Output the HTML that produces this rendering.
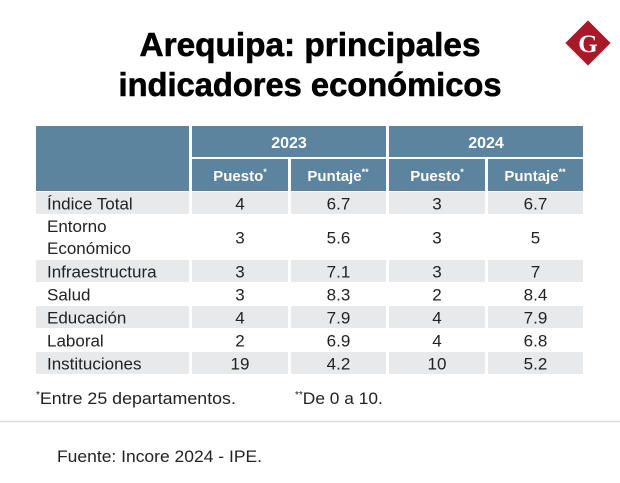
<!DOCTYPE html>
<html><head><meta charset="utf-8"><style>
html,body{margin:0;padding:0;background:#fff;width:620px;height:483px;overflow:hidden}
svg{display:block;font-family:"Liberation Sans",sans-serif}
</style></head><body>
<svg id="c" width="620" height="483" viewBox="0 0 620 483">
<text x="310" y="56" text-anchor="middle" font-size="33" font-weight="bold" textLength="341" lengthAdjust="spacingAndGlyphs" fill="#000" stroke="#000" stroke-width="0.6">Arequipa: principales</text>
<text x="310" y="96" text-anchor="middle" font-size="33" font-weight="bold" textLength="383" lengthAdjust="spacingAndGlyphs" fill="#000" stroke="#000" stroke-width="0.6">indicadores económicos</text>
<g>
<rect x="572" y="27" width="32" height="32" fill="#a8192a" transform="rotate(45 588 43)"/>
<text x="588" y="52" text-anchor="middle" font-family="Liberation Serif,serif" font-weight="bold" font-size="25" fill="#fff">G</text>
</g>
<g>
<rect x="36" y="126" width="153" height="65" fill="#5c849f"/>
<rect x="192" y="126" width="194" height="31" fill="#5c849f"/>
<rect x="389" y="126" width="194" height="31" fill="#5c849f"/>
<rect x="192" y="159" width="96" height="32" fill="#5c849f"/>
<rect x="291" y="159" width="95" height="32" fill="#5c849f"/>
<rect x="389" y="159" width="96" height="32" fill="#5c849f"/>
<rect x="488" y="159" width="95" height="32" fill="#5c849f"/>
<text x="289" y="148" text-anchor="middle" font-size="16" font-weight="bold" fill="#fff">2023</text>
<text x="486" y="148" text-anchor="middle" font-size="16" font-weight="bold" fill="#fff">2024</text>
<text x="240" y="181" text-anchor="middle" font-size="15" font-weight="bold" fill="#fff">Puesto<tspan font-size="9" dy="-6">*</tspan></text>
<text x="338" y="181" text-anchor="middle" font-size="15" font-weight="bold" fill="#fff">Puntaje<tspan font-size="9" dy="-6">**</tspan></text>
<text x="437" y="181" text-anchor="middle" font-size="15" font-weight="bold" fill="#fff">Puesto<tspan font-size="9" dy="-6">*</tspan></text>
<text x="535" y="181" text-anchor="middle" font-size="15" font-weight="bold" fill="#fff">Puntaje<tspan font-size="9" dy="-6">**</tspan></text>
</g>
<g id="body"></g>
<text x="36" y="404" font-size="17" fill="#222"><tspan font-size="10" dy="-6">*</tspan><tspan dy="6" textLength="196" lengthAdjust="spacingAndGlyphs">Entre 25 departamentos.</tspan></text>
<text x="295" y="404" font-size="17" fill="#222"><tspan font-size="10" dy="-6">**</tspan><tspan dy="6" textLength="80" lengthAdjust="spacingAndGlyphs">De 0 a 10.</tspan></text>
<line x1="0" y1="421.5" x2="620" y2="421.5" stroke="#ddd" stroke-width="1.5"/>
<text x="57" y="462" font-size="17" fill="#222" textLength="205" lengthAdjust="spacingAndGlyphs">Fuente:  Incore 2024 - IPE.</text>
</svg>
<script>
const categories=["Índice Total","Entorno|Económico","Infraestructura","Salud","Educación","Laboral","Instituciones"];
const puesto2023=[4,3,3,3,4,2,19];
const puntaje2023=["6.7","5.6","7.1","8.3","7.9","6.9","4.2"];
const puesto2024=[3,3,3,2,4,4,10];
const puntaje2024=["6.7","5","7","8.4","7.9","6.8","5.2"];
const NS="http://www.w3.org/2000/svg";
const g=document.getElementById('body');
const cols=[[192,96],[291,95],[389,96],[488,95]];
let y=192;
categories.forEach((c,i)=>{
  const tall=c.includes('|');
  const h=tall?45:23;
  const gray=i%2===0;
  const row=document.createElementNS(NS,'g');
  
  
  if(gray){
    const r1=document.createElementNS(NS,'rect');
    r1.setAttribute('x',36);r1.setAttribute('y',y);r1.setAttribute('width',153);r1.setAttribute('height',h-1);r1.setAttribute('fill','#e8e9eb');
    row.appendChild(r1);
    cols.forEach(([x,w])=>{const r=document.createElementNS(NS,'rect');
      r.setAttribute('x',x);r.setAttribute('y',y);r.setAttribute('width',w);r.setAttribute('height',h-1);r.setAttribute('fill','#e8e9eb');row.appendChild(r);});
  }
  const mid=y+h/2+6;
  const lab=document.createElementNS(NS,'text');
  lab.setAttribute('x',47);lab.setAttribute('font-size',17);lab.setAttribute('fill','#222');
  
  if(tall){const p=c.split('|');
    p.forEach((s,k)=>{const t=document.createElementNS(NS,'tspan');t.setAttribute('x',47);t.setAttribute('y',y+17+k*22);t.textContent=s;lab.appendChild(t);});
  } else {lab.setAttribute('y',mid);lab.textContent=c;}
  row.appendChild(lab);
  [puesto2023[i],puntaje2023[i],puesto2024[i],puntaje2024[i]].forEach((v,k)=>{
    const t=document.createElementNS(NS,'text');
    t.setAttribute('x',cols[k][0]+cols[k][1]/2);t.setAttribute('y',mid);
    t.setAttribute('text-anchor','middle');t.setAttribute('font-size',17);t.setAttribute('fill','#222');
    
    t.textContent=v;row.appendChild(t);
  });
  g.appendChild(row);
  y+=h;
});
</script>
</body></html>
